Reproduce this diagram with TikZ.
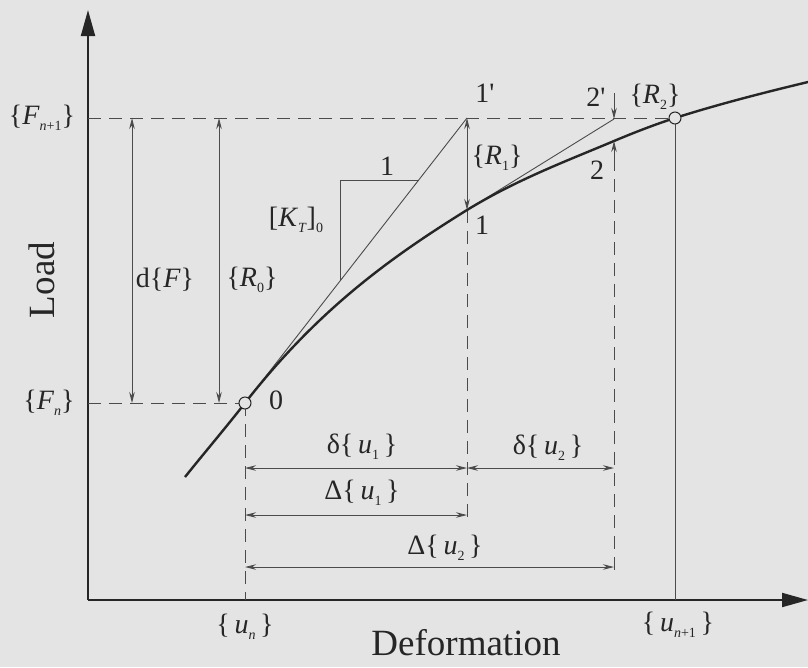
\documentclass[tikz,border=0pt]{standalone}
\usepackage{fontspec}
\setmainfont{Liberation Serif}
\usetikzlibrary{arrows.meta}
\definecolor{bg}{RGB}{228,228,228}
\definecolor{ink}{RGB}{38,38,38}
\definecolor{thin}{RGB}{75,75,75}
\newcommand{\lblfont}{\fontsize{28}{30}\selectfont}
\newcommand{\bigfont}{\fontsize{37}{40}\selectfont}
\newcommand{\sbs}[1]{\raisebox{-0.22em}{\fontsize{14}{14}\selectfont #1}}
\newcommand{\prm}{\textquotesingle}
\begin{document}
\begin{tikzpicture}[x=1pt,y=-1pt,
  axis/.style={draw=ink,line width=2pt,-{Triangle[length=26pt,width=14pt]}},
  curve/.style={draw=ink,line width=2.4pt},
  thinline/.style={draw=thin,line width=0.9pt},
  dashline/.style={draw=thin,line width=1pt,dash pattern=on 13pt off 8pt},
  dim/.style={draw=thin,line width=0.9pt,{Stealth[length=11pt,width=5.5pt]}-{Stealth[length=11pt,width=5.5pt]}},
  oneway/.style={draw=thin,line width=0.9pt,-{Stealth[length=11pt,width=5.5pt]}},
  lab/.style={font=\lblfont,text=ink,inner sep=0pt},
  big/.style={font=\bigfont,text=ink,inner sep=0pt},
  ptmark/.style={circle,draw=ink,fill=bg,line width=1pt,minimum size=12pt,inner sep=0pt}
]
\useasboundingbox (0,0) rectangle (808,667);
\fill[bg] (0,0) rectangle (808,667);

% key coordinates
\coordinate (O) at (88,600);
\coordinate (ytop) at (88,10);
\coordinate (xend) at (808,600);
\coordinate (Fn1) at (88,118);
\coordinate (Fn) at (88,403);
\coordinate (P0) at (245,403);
\coordinate (P1) at (467,210);
\coordinate (P1p) at (467,118);
\coordinate (P2) at (614,141);
\coordinate (P2p) at (614,119);
\coordinate (Pe) at (675,118);
\coordinate (Cs) at (185,477);
\coordinate (Ce) at (808,82);

% axes
\draw[axis] (O) -- (ytop);
\draw[axis] (O) -- (xend);

% dashed guides
\coordinate (R0a) at (219,118);
\coordinate (R0b) at (219,403);
\coordinate (dFa) at (132,118);
\coordinate (dFb) at (132,403);
\draw[dashline] (Fn1) -- (Pe);
\draw[dashline] (Fn) -- (P0);
\coordinate (P0down) at (245,600);
\coordinate (P1down) at (467,522);
\coordinate (P2mid) at (614,158);
\coordinate (P2down) at (614,573);
\draw[dashline] (P0) -- (P0down);
\draw[dashline] (P1) -- (P1down);
\draw[dashline] (P2mid) -- (P2down);

% solid vertical at end point
\coordinate (Pedown) at (675,600);
\draw[thinline] (Pe) -- (Pedown);

% tangent lines
\draw[thinline] (P0) -- (P1p);
\draw[thinline] (P1) -- (P2p);

% slope triangle
\coordinate (Ta) at (340,281);
\coordinate (Tb) at (340,180);
\coordinate (Tc) at (419,180);
\draw[thinline] (Ta) -- (Tb) -- (Tc);

% curve
\draw[curve] (Cs) .. controls (205,452) and (225,428.6) .. (P0)
  .. controls (319,308) and (393,256) .. (P1)
  .. controls (516,180) and (565,161.6) .. (P2)
  .. controls (634,132.6) and (655,124.4) .. (Pe)
  .. controls (719,104) and (764,92.6) .. (Ce);

% vertical dimension arrows
\draw[dim] (dFa) -- (dFb);
\draw[dim] (R0a) -- (R0b);
\draw[dim] (P1p) -- (P1);
\coordinate (R2top) at (614,93);
\draw[oneway] (R2top) -- (P2p);
\draw[oneway] (P2mid) -- (P2);

% horizontal dimension lines
\coordinate (d1a) at (245,468);
\coordinate (d1b) at (467,468);
\coordinate (d2b) at (614,468);
\coordinate (D1a) at (245,515);
\coordinate (D1b) at (467,515);
\coordinate (D2a) at (245,567);
\coordinate (D2b) at (614,567);
\draw[dim] (d1a) -- (d1b);
\draw[dim] (d1b) -- (d2b);
\draw[dim] (D1a) -- (D1b);
\draw[dim] (D2a) -- (D2b);

% point markers
\node[ptmark] (m0) at (P0) {};
\node[ptmark] (me) at (Pe) {};

% labels
\node[lab] (lFn1) at (42,118) {\{\textit{F}\sbs{\textit{n}+1}\}};
\node[lab] (lFn) at (49,403) {\{\textit{F}\sbs{\textit{n}}\}};
\node[lab] (ldF) at (165,280) {d\{\textit{F}\}};
\node[lab] (lR0) at (252,280) {\{\textit{R}\sbs{0}\}};
\node[lab] (l0) at (276,400) {0};
\node[lab] (lK) at (296,220) {[\textit{K}\sbs{\textit{T}}]\sbs{0}};
\node[lab] (lone) at (387,166) {1};
\node[lab] (l1p) at (485,93) {1\prm};
\node[lab] (l1) at (482,225) {1};
\node[lab] (lR1) at (497,158) {\{\textit{R}\sbs{1}\}};
\node[lab] (l2p) at (596,97) {2\prm};
\node[lab] (lR2) at (655,97) {\{\textit{R}\sbs{2}\}};
\node[lab] (l2) at (597,170) {2};
\node[lab] (ldu1) at (362,447) {δ\{\,\textit{u}\sbs{1}\,\}};
\node[lab] (lDu1) at (362,493) {Δ\{\,\textit{u}\sbs{1}\,\}};
\node[lab] (ldu2) at (548,448) {δ\{\,\textit{u}\sbs{2}\,\}};
\node[lab] (lDu2) at (445,548) {Δ\{\,\textit{u}\sbs{2}\,\}};
\node[lab] (lun) at (245,627) {\{\,\textit{u}\sbs{\textit{n}}\,\}};
\node[lab] (lun1) at (678,625) {\{\,\textit{u}\sbs{\textit{n}+1}\,\}};
\node[big] (lx) at (466,643) {Deformation};
\node[big,rotate=90] (ly) at (42,280) {Load};
\end{tikzpicture}
\end{document}
